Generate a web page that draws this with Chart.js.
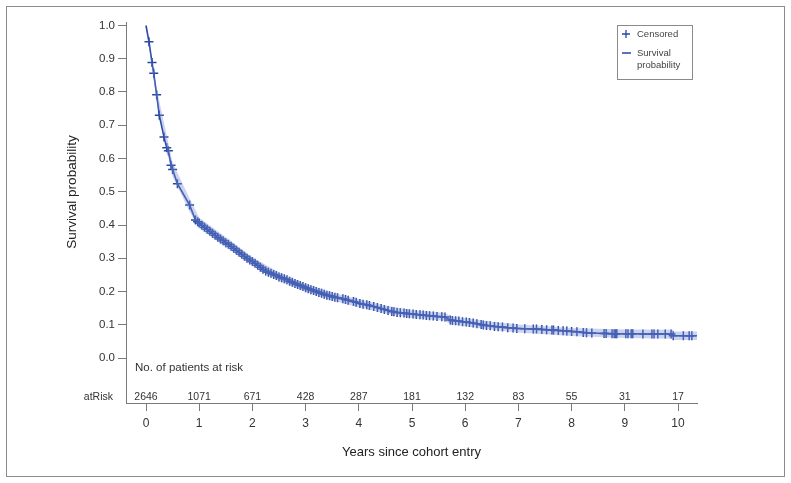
<!DOCTYPE html>
<html>
<head>
<meta charset="utf-8">
<script src="https://cdn.jsdelivr.net/npm/chart.js@4"></script>
<style>
  html, body { margin: 0; padding: 0; background: #fff; }
  #wrap { position: relative; width: 791px; height: 483px; }
  #frame { position: absolute; left: 6px; top: 6px; width: 779px; height: 471px; border: 1px solid #8c8c8c; box-sizing: border-box; }
  canvas { position: absolute; left: 0; top: 0; }
</style>
</head>
<body>
<div id="wrap">
  <div id="frame"></div>
  <canvas id="km" width="791" height="483"></canvas>
</div>
<script>
// Kaplan-Meier estimate (years, probability)
const survTime = [0, 0.056, 0.113, 0.145, 0.2, 0.25, 0.338, 0.39, 0.42, 0.47, 0.5, 0.59, 0.82, 0.93,
  0.97, 1.0, 1.05, 1.1, 1.15, 1.2, 1.25, 1.3, 1.35, 1.4, 1.45, 1.5, 1.55, 1.6, 1.65, 1.7, 1.75, 1.8, 1.85, 1.9, 1.95,
  2.0, 2.05, 2.1, 2.15, 2.2, 2.25, 2.3, 2.35, 2.4, 2.45, 2.5, 2.55, 2.6, 2.65, 2.7, 2.75, 2.8, 2.85, 2.9, 2.95,
  3.0, 3.05, 3.1, 3.15, 3.2, 3.25, 3.3, 3.35, 3.4, 3.45, 3.5, 3.55, 3.6, 3.7, 3.75, 3.8, 3.9, 3.95,
  4.02, 4.08, 4.15, 4.2, 4.28, 4.35, 4.42, 4.48, 4.55, 4.62, 4.66, 4.72, 4.78, 4.85, 4.9, 4.95,
  5.02, 5.08, 5.15, 5.21, 5.27, 5.33, 5.4, 5.47, 5.56, 5.62, 5.72, 5.76, 5.82, 5.88, 5.95,
  6.02, 6.08, 6.15, 6.22, 6.3, 6.34, 6.4, 6.47, 6.55, 6.62, 6.7, 6.8, 6.9, 6.97,
  7.12, 7.28, 7.34, 7.44, 7.53, 7.63, 7.66, 7.75, 7.84, 7.91, 8.0, 8.1, 8.22, 8.28, 8.38,
  8.61, 8.65, 8.76, 8.8, 8.83, 8.85, 9.02, 9.06, 9.12, 9.15, 9.34, 9.51, 9.55, 9.62, 9.76, 9.87,
  9.91, 10.1, 10.21, 10.26, 10.36];
const survProb = [1.0, 0.951, 0.889, 0.856, 0.792, 0.73, 0.665, 0.632, 0.623, 0.58, 0.567, 0.524, 0.46, 0.415,
  0.41, 0.406, 0.399, 0.393, 0.387, 0.381, 0.375, 0.369, 0.363, 0.358, 0.353, 0.347, 0.342, 0.336, 0.33, 0.324, 0.318, 0.312, 0.306, 0.3, 0.295,
  0.29, 0.285, 0.279, 0.273, 0.267, 0.262, 0.258, 0.255, 0.251, 0.248, 0.244, 0.241, 0.238, 0.235, 0.231, 0.228, 0.224, 0.221, 0.218, 0.215,
  0.211, 0.208, 0.205, 0.203, 0.2, 0.197, 0.195, 0.192, 0.189, 0.187, 0.185, 0.183, 0.181, 0.178, 0.176, 0.174, 0.17, 0.168,
  0.164, 0.162, 0.16, 0.158, 0.155, 0.152, 0.149, 0.146, 0.143, 0.14, 0.139, 0.137, 0.136, 0.135, 0.134, 0.133,
  0.132, 0.131, 0.13, 0.129, 0.128, 0.127, 0.126, 0.125, 0.124, 0.123, 0.114, 0.113, 0.112, 0.111, 0.109,
  0.108, 0.107, 0.105, 0.103, 0.101, 0.099, 0.098, 0.097, 0.095, 0.094, 0.093, 0.091, 0.09, 0.089,
  0.088, 0.087, 0.087, 0.086, 0.085, 0.084, 0.084, 0.083, 0.082, 0.081, 0.08, 0.079, 0.077, 0.076, 0.075,
  0.074, 0.074, 0.073, 0.073, 0.073, 0.073, 0.073, 0.073, 0.073, 0.073, 0.072, 0.072, 0.072, 0.072, 0.072, 0.072,
  0.067, 0.067, 0.067, 0.067, 0.067];

// 95% confidence band
const ciTime = [0, 0.2, 0.5, 0.82, 1.0, 1.5, 2.0, 2.5, 3.0, 3.5, 4.0, 4.5, 5.0, 5.6, 5.75, 6.5, 7.0, 8.0, 9.0, 9.9, 9.92, 10.36];
const ciLow  = [1.0, 0.774, 0.546, 0.44, 0.39, 0.333, 0.277, 0.231, 0.199, 0.173, 0.153, 0.134, 0.12, 0.112, 0.101, 0.085, 0.077, 0.066, 0.06, 0.058, 0.054, 0.054];
const ciHigh = [1.0, 0.81, 0.588, 0.48, 0.422, 0.363, 0.303, 0.257, 0.223, 0.197, 0.177, 0.158, 0.144, 0.136, 0.125, 0.109, 0.101, 0.09, 0.086, 0.085, 0.08, 0.08];

// numbers at risk
const riskTime = [0, 1, 2, 3, 4, 5, 6, 7, 8, 9, 10];
const atRisk = [2646, 1071, 671, 428, 287, 181, 132, 83, 55, 31, 17];

const xTicks = [0, 1, 2, 3, 4, 5, 6, 7, 8, 9, 10];
const yTicks = [0, 0.1, 0.2, 0.3, 0.4, 0.5, 0.6, 0.7, 0.8, 0.9, 1.0];

const blue = "#2647a3";
const band = "rgba(120, 140, 210, 0.38)";
const axisGrey = "#7a7a7a";
const textGrey = "#333";
const fontFam = "'Liberation Sans', Arial, sans-serif";

const toXY = (xs, ys) => xs.map((x, i) => ({ x: x, y: ys[i] }));

// risk table, y title and legend box
const extras = {
  id: "extras",
  afterDraw(chart) {
    const ctx = chart.ctx;
    const xs = chart.scales.x;
    const area = chart.chartArea;
    ctx.save();
    ctx.fillStyle = textGrey;
    ctx.textBaseline = "middle";

    ctx.font = "10.5px " + fontFam;
    ctx.textAlign = "center";
    riskTime.forEach((t, i) => {
      ctx.fillText(String(atRisk[i]), xs.getPixelForValue(t), area.bottom - 6);
    });
    ctx.textAlign = "right";
    ctx.fillText("atRisk", 113, area.bottom - 6);

    ctx.font = "11.5px " + fontFam;
    ctx.textAlign = "left";
    ctx.fillText("No. of patients at risk", 135, 368);

    // y title, centred on the 0-1 range
    ctx.save();
    ctx.translate(72.5, 192);
    ctx.rotate(-Math.PI / 2);
    ctx.textAlign = "center";
    ctx.font = "13.5px " + fontFam;
    ctx.fillStyle = "#222";
    ctx.fillText("Survival probability", 0, 0);
    ctx.restore();

    // legend
    ctx.strokeStyle = "#8a8a8a";
    ctx.lineWidth = 1;
    ctx.strokeRect(617.5, 25.5, 75, 54);
    ctx.strokeStyle = blue;
    ctx.lineWidth = 1.3;
    ctx.beginPath();
    ctx.moveTo(622, 34); ctx.lineTo(630, 34);
    ctx.moveTo(626, 30); ctx.lineTo(626, 38);
    ctx.moveTo(622, 53); ctx.lineTo(631, 53);
    ctx.stroke();
    ctx.fillStyle = "#444";
    ctx.font = "9.5px " + fontFam;
    ctx.textAlign = "left";
    ctx.fillText("Censored", 637, 34);
    ctx.fillText("Survival", 637, 53);
    ctx.fillText("probability", 637, 65.5);
    ctx.restore();
  }
};

new Chart(document.getElementById("km"), {
  type: "line",
  data: {
    datasets: [
      { label: "lower", data: toXY(ciTime, ciLow), borderWidth: 0, pointRadius: 0, fill: false, backgroundColor: band },
      { label: "upper", data: toXY(ciTime, ciHigh), borderWidth: 0, pointRadius: 0, fill: "-1", backgroundColor: band },
      {
        label: "Survival probability",
        data: toXY(survTime, survProb),
        borderColor: blue,
        borderWidth: 1.6,
        fill: false,
        tension: 0,
        pointStyle: "cross",
        pointRadius: (c) => (c.dataIndex === 0 || c.dataIndex === survTime.length - 1 ? 0 : 4.5),
        pointBorderColor: blue,
        pointBorderWidth: 1.5,
      },
    ],
  },
  options: {
    responsive: false,
    animation: false,
    layout: { padding: { left: 61, top: 22, right: 94, bottom: 19.2 } },
    plugins: { legend: { display: false }, tooltip: { enabled: false } },
    scales: {
      x: {
        type: "linear",
        min: -0.376,
        max: 10.357,
        afterBuildTicks: (s) => { s.ticks = xTicks.map((v) => ({ value: v })); },
        afterFit: (s) => { s.height = 60.8; },
        ticks: { font: { size: 12, family: fontFam }, color: textGrey, padding: 5, maxRotation: 0, autoSkip: false },
        grid: { display: true, drawOnChartArea: false, drawTicks: true, tickLength: 8, color: axisGrey },
        border: { display: true, color: axisGrey },
        title: { display: true, text: "Years since cohort entry", font: { size: 13, family: fontFam }, color: "#222", padding: { top: 0, bottom: 4 } },
      },
      y: {
        type: "linear",
        min: -0.1353,
        max: 1.0105,
        afterBuildTicks: (s) => { s.ticks = yTicks.map((v) => ({ value: v })); },
        afterFit: (s) => { s.width = 65; },
        ticks: { font: { size: 11.5, family: fontFam }, color: textGrey, padding: 3, callback: (v) => v.toFixed(1) },
        grid: { display: true, drawOnChartArea: false, drawTicks: true, tickLength: 8, color: axisGrey },
        border: { display: true, color: axisGrey },
      },
    },
  },
  plugins: [extras],
});
</script>
</body>
</html>
